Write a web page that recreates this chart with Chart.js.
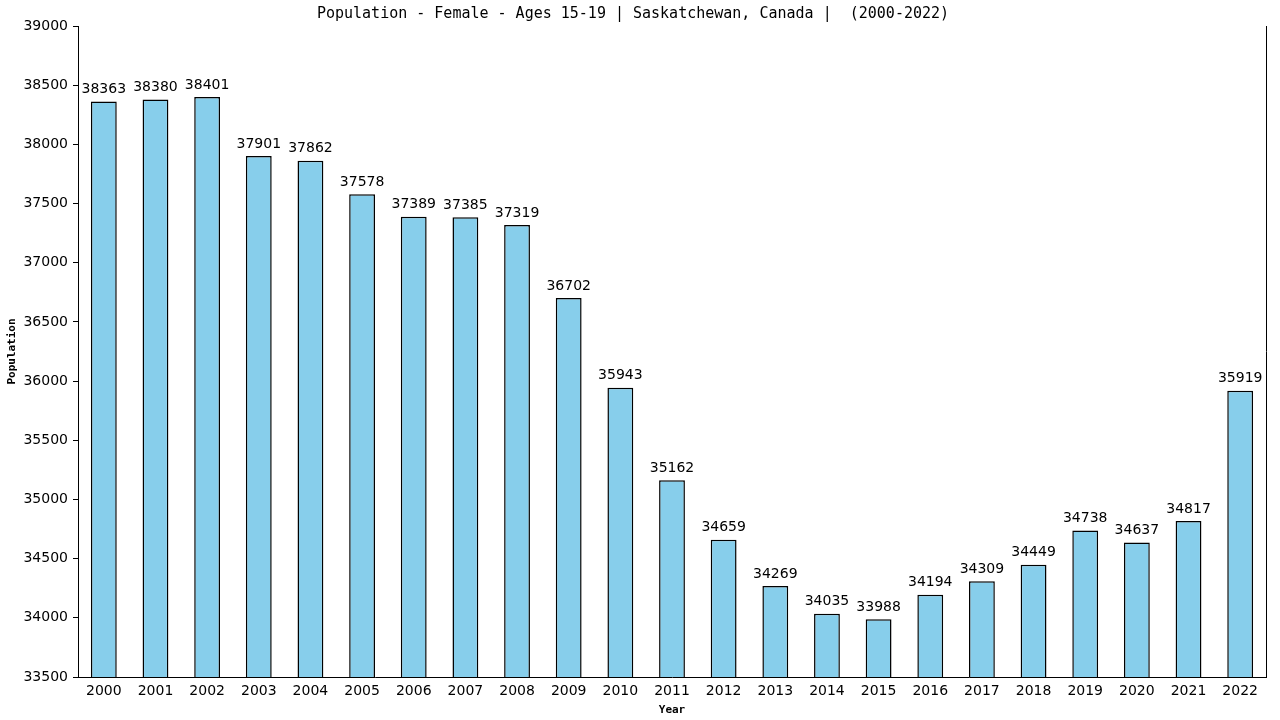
<!DOCTYPE html>
<html>
<head>
<meta charset="utf-8">
<script src="https://cdn.jsdelivr.net/npm/chart.js@4"></script>
<style>
  html, body { margin: 0; padding: 0; background: #fff; }
  #wrap { width: 1280px; height: 720px; }
</style>
</head>
<body>
<div id="wrap"><canvas id="myChart" width="1280" height="720"></canvas></div>
<script>
// data
const years = ['2000', '2001', '2002', '2003', '2004', '2005', '2006', '2007', '2008', '2009', '2010', '2011',
    '2012', '2013', '2014', '2015', '2016', '2017', '2018', '2019', '2020', '2021', '2022'];
const population = [38363, 38380, 38401, 37901, 37862, 37578, 37389, 37385, 37319, 36702, 35943, 35162,
    34659, 34269, 34035, 33988, 34194, 34309, 34449, 34738, 34637, 34817, 35919];
const yMin = 33500;
const yMax = 39000;
const yStep = 500;

const labelFont = '"DejaVu Sans", Verdana, sans-serif';
const monoFont = '"DejaVu Sans Mono", "Liberation Mono", monospace';

// value above each bar + right border line
const barLabels = {
    id: 'barLabels',
    afterDatasetsDraw(chart) {
        const ctx = chart.ctx;
        const meta = chart.getDatasetMeta(0);
        ctx.save();
        ctx.font = '14px ' + labelFont;
        ctx.fillStyle = '#000';
        ctx.textAlign = 'center';
        ctx.textBaseline = 'bottom';
        meta.data.forEach((bar, i) => {
            ctx.fillText(String(population[i]), bar.x, bar.y - 5);
        });
        // right edge of the plot
        const area = chart.chartArea;
        ctx.strokeStyle = '#000';
        ctx.lineWidth = 1;
        ctx.beginPath();
        ctx.moveTo(Math.round(area.right) + 0.5, area.top);
        ctx.lineTo(Math.round(area.right) + 0.5, area.bottom);
        ctx.stroke();
        ctx.restore();
    }
};

document.addEventListener('DOMContentLoaded', function () {
    const ctx = document.getElementById('myChart').getContext('2d');

    const myChart = new Chart(ctx, {
        type: 'bar',
        data: {
            labels: years,
            datasets: [{
                label: 'Population',
                data: population,
                backgroundColor: '#87CEEB',
                borderColor: '#000',
                borderWidth: 1.5,
                barPercentage: 0.5,
                categoryPercentage: 1.0
            }]
        },
        options: {
            responsive: false,
            animation: false,
            devicePixelRatio: 1,
            layout: {
                padding: { left: 0, right: 14, top: 0, bottom: 0 }
            },
            plugins: {
                legend: { display: false },
                tooltip: { enabled: false },
                title: {
                    display: true,
                    text: 'Population - Female - Ages 15-19 | Saskatchewan, Canada |  (2000-2022)',
                    color: '#000',
                    font: { family: monoFont, size: 15, weight: 'normal' },
                    padding: { top: 5, bottom: 3 }
                }
            },
            scales: {
                x: {
                    type: 'category',
                    grid: { display: false },
                    border: { display: true, color: '#000', width: 1 },
                    ticks: {
                        color: '#000',
                        font: { family: labelFont, size: 14 },
                        padding: -2,
                        maxRotation: 0,
                        autoSkip: false
                    },
                    title: {
                        display: true,
                        text: 'Year',
                        color: '#000',
                        font: { family: monoFont, size: 11, weight: 'bold' },
                        padding: { top: 0, bottom: 3 }
                    },
                    afterFit(scale) { scale.height = 43; }
                },
                y: {
                    min: yMin,
                    max: yMax,
                    grid: {
                        display: true,
                        drawOnChartArea: false,
                        drawTicks: true,
                        tickLength: 5,
                        color: '#000'
                    },
                    border: { display: true, color: '#000', width: 1 },
                    ticks: {
                        stepSize: yStep,
                        color: '#000',
                        font: { family: labelFont, size: 14 },
                        padding: 5,
                        callback: (v) => String(v)
                    },
                    title: {
                        display: true,
                        text: 'Population',
                        color: '#000',
                        font: { family: monoFont, size: 11, weight: 'bold' },
                        padding: { top: 6, bottom: 0 }
                    },
                    afterFit(scale) { scale.width = 78; }
                }
            }
        },
        plugins: [barLabels]
    });
});
</script>
</body>
</html>
